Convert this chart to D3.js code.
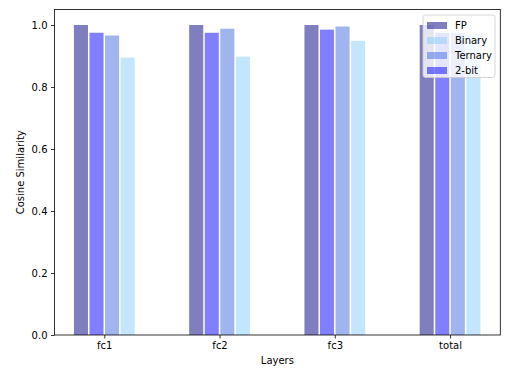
<!DOCTYPE html>
<html>
<head>
<meta charset="utf-8">
<script src="https://cdn.jsdelivr.net/npm/d3@7"></script>
<style>
  body { margin: 0; background: #fff; }
  text { font-family: "DejaVu Sans", sans-serif; }
</style>
</head>
<body>
<div id="app"></div>
<script>
const layers = ['fc1', 'fc2', 'fc3', 'total'];
const yTicks = [0.0, 0.2, 0.4, 0.6, 0.8, 1.0];

// values, per layer
const fp = [1.0, 1.0, 1.0, 1.0];
const twoBit = [0.975, 0.975, 0.985, 0.975];
const ternary = [0.966, 0.988, 0.995, 0.975];
const binary = [0.895, 0.898, 0.949, 0.97];

// legend order: FP, Binary, Ternary, 2-bit ; slot = position inside the group
const series = [
  { name: 'FP', values: fp, color: 'navy', slot: 0 },
  { name: 'Binary', values: binary, color: 'lightskyblue', slot: 3 },
  { name: 'Ternary', values: ternary, color: 'royalblue', slot: 2 },
  { name: '2-bit', values: twoBit, color: 'blue', slot: 1 }
];

const width = 524, height = 374;
const margin = { left: 54.5, right: 23.7, top: 9.5, bottom: 39 };
const barW = 0.135;

const svg = d3.select('#app').append('svg')
  .attr('width', width)
  .attr('height', height);

const x = d3.scaleLinear()
  .domain([-0.432, layers.length - 1 + 0.436])
  .range([margin.left, width - margin.right]);

const y = d3.scaleLinear()
  .domain([0, 1.05])
  .range([height - margin.bottom, margin.top]);

// bars
series.forEach(s => {
  svg.append('g')
    .selectAll('rect')
    .data(s.values)
    .join('rect')
    .attr('x', (d, i) => x(i + (s.slot - 1.5) * barW - barW / 2) + 0.75)
    .attr('width', x(barW) - x(0) - 1.5)
    .attr('y', d => y(d))
    .attr('height', d => y(0) - y(d))
    .attr('fill', s.color)
    .attr('fill-opacity', 0.5);
});

// axes
const xAxis = d3.axisBottom(x)
  .tickValues(d3.range(layers.length))
  .tickFormat(i => layers[i])
  .tickSizeInner(3.5).tickSizeOuter(0).tickPadding(3.5);

const yAxis = d3.axisLeft(y)
  .tickValues(yTicks)
  .tickFormat(d3.format('.1f'))
  .tickSizeInner(3.5).tickSizeOuter(0).tickPadding(3.5);

const gx = svg.append('g')
  .attr('transform', `translate(0,${y(0)})`)
  .call(xAxis);
const gy = svg.append('g')
  .attr('transform', `translate(${margin.left},0)`)
  .call(yAxis);

[gx, gy].forEach(g => {
  g.select('.domain').remove();
  g.selectAll('line').attr('stroke', '#000').attr('stroke-width', 0.8);
  g.selectAll('text').attr('font-size', 10).attr('fill', '#000')
    .attr('font-family', '"DejaVu Sans", sans-serif');
});

// frame
svg.append('rect')
  .attr('x', margin.left).attr('y', margin.top)
  .attr('width', width - margin.right - margin.left)
  .attr('height', y(0) - margin.top)
  .attr('fill', 'none')
  .attr('stroke', '#000')
  .attr('stroke-width', 0.8);

// labels
svg.append('text')
  .attr('x', (margin.left + width - margin.right) / 2)
  .attr('y', 364)
  .attr('text-anchor', 'middle')
  .attr('font-size', 10)
  .text('Layers');

svg.append('text')
  .attr('transform', `translate(24,${(margin.top + y(0)) / 2}) rotate(-90)`)
  .attr('text-anchor', 'middle')
  .attr('font-size', 10)
  .text('Cosine Similarity');

// legend
const legend = svg.append('g').attr('transform', 'translate(423,15)');
legend.append('rect')
  .attr('width', 72).attr('height', 62.5)
  .attr('rx', 2.5)
  .attr('fill', 'white').attr('fill-opacity', 0.8)
  .attr('stroke', '#ccc').attr('stroke-width', 0.8);

const item = legend.selectAll('g.item')
  .data(series)
  .join('g')
  .attr('class', 'item')
  .attr('transform', (d, i) => `translate(4,${7 + i * 15})`);

item.append('rect')
  .attr('width', 20).attr('height', 7)
  .attr('fill', d => d.color)
  .attr('fill-opacity', 0.5);

item.append('text')
  .attr('x', 28).attr('y', 3.5)
  .attr('dy', '0.35em')
  .attr('font-size', 10)
  .text(d => d.name);
</script>
</body>
</html>
